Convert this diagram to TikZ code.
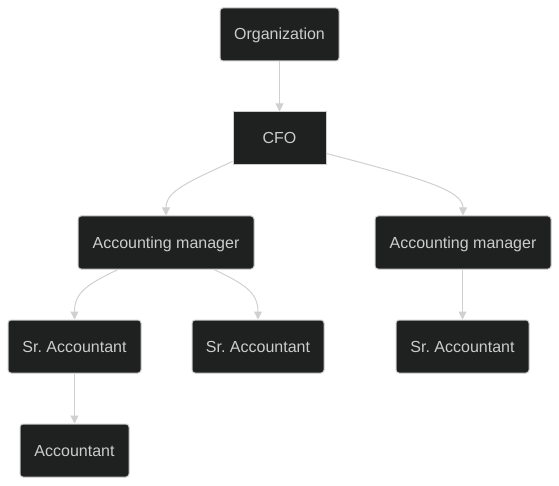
\documentclass[tikz,border=0pt]{standalone}
\usepackage{fontspec}
\setmainfont{Liberation Sans}
\usetikzlibrary{arrows.meta}
\definecolor{boxfill}{HTML}{1F2020}
\definecolor{boxline}{HTML}{CCCCCC}
\definecolor{txt}{HTML}{CCCCCC}
\definecolor{edge}{HTML}{D0D0D0}
\tikzset{
  box/.style={draw=boxline, line width=1pt, fill=boxfill, text=txt, rounded corners=3pt,
    font=\fontsize{16}{19}\selectfont\frenchspacing, inner sep=0pt, minimum height=53pt,
    text height=14pt, text depth=3pt},
  sqbox/.style={box, rounded corners=0pt},
  conn/.style={draw=edge, line width=1pt, -{Triangle[length=8pt,width=8pt]}}
}
\begin{document}
\begin{tikzpicture}[x=1pt,y=-1pt]
\useasboundingbox (0,0) rectangle (559,486);
\node[box, minimum width=119pt] (org) at (279.5,34.5) {Organization};
\node[sqbox, minimum width=93pt] (cfo) at (279.5,138.5) {CFO};
\node[box, minimum width=176pt] (am1) at (166,242.5) {Accounting manager};
\node[box, minimum width=176pt] (am2) at (463,242.5) {Accounting manager};
\node[box, minimum width=133pt] (sa1) at (74.5,346.5) {Sr. Accountant};
\node[box, minimum width=132pt] (sa2) at (258,346.5) {Sr. Accountant};
\node[box, minimum width=133pt] (sa3) at (462.5,346.5) {Sr. Accountant};
\node[box, minimum width=109pt] (acc) at (74.5,450.5) {Accountant};

\draw[conn] (org.south) -- (cfo.north);
\draw[conn] ([yshift=4pt]cfo.south west) .. controls (185,183) and (166,192) .. (am1.north);
\draw[conn] ([yshift=12pt]cfo.south east) .. controls (420,178) and (463,190) .. (am2.north);
\draw[conn] ([xshift=-48pt]am1.south) .. controls (88,284) and (74.5,292) .. (sa1.north);
\draw[conn] ([xshift=48pt]am1.south) .. controls (244,284) and (258,292) .. (sa2.north);
\draw[conn] ([xshift=-0.5pt]am2.south) -- (sa3.north);
\draw[conn] (sa1.south) -- (acc.north);
\end{tikzpicture}
\end{document}
